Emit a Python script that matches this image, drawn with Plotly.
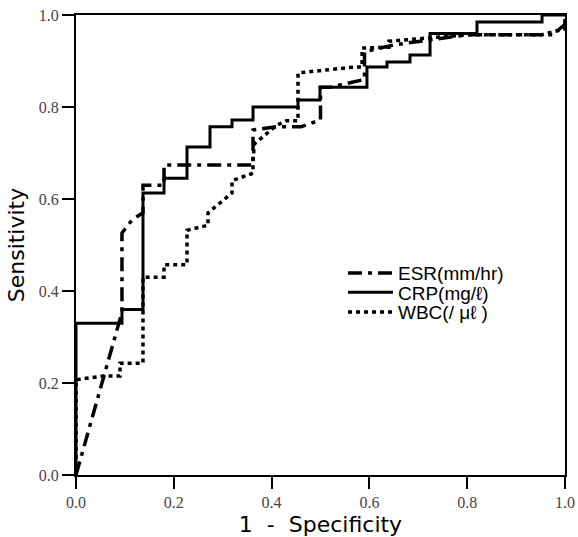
import plotly.graph_objects as go

# ---- data ----
esr_fpr = [0.0, 0.094, 0.094, 0.115, 0.137, 0.137, 0.18, 0.18, 0.362, 0.362, 0.41, 0.46, 0.50, 0.50, 0.52, 0.59, 0.59, 0.65, 0.80, 0.975, 1.0, 1.0]
esr_tpr = [0.0, 0.354, 0.526, 0.555, 0.57, 0.63, 0.63, 0.674, 0.674, 0.75, 0.757, 0.757, 0.772, 0.843, 0.843, 0.86, 0.92, 0.935, 0.957, 0.957, 0.98, 1.0]

crp_fpr = [0.0, 0.0, 0.094, 0.094, 0.137, 0.137, 0.18, 0.18, 0.227, 0.227, 0.274, 0.274, 0.319, 0.319, 0.362, 0.362, 0.454, 0.454, 0.499, 0.499, 0.595, 0.595, 0.636, 0.636, 0.683, 0.683, 0.724, 0.724, 0.82, 0.82, 0.953, 0.953, 1.0]
crp_tpr = [0.0, 0.33, 0.33, 0.36, 0.36, 0.613, 0.613, 0.645, 0.645, 0.713, 0.713, 0.757, 0.757, 0.772, 0.772, 0.80, 0.80, 0.815, 0.815, 0.843, 0.843, 0.887, 0.887, 0.898, 0.898, 0.913, 0.913, 0.96, 0.96, 0.985, 0.985, 1.0, 1.0]

wbc_fpr = [0.0, 0.0, 0.055, 0.09, 0.09, 0.137, 0.137, 0.18, 0.18, 0.227, 0.227, 0.27, 0.27, 0.319, 0.319, 0.362, 0.362, 0.365, 0.41, 0.43, 0.454, 0.454, 0.57, 0.585, 0.585, 0.64, 0.64, 0.80, 0.953, 1.0, 1.0]
wbc_tpr = [0.0, 0.207, 0.215, 0.215, 0.243, 0.243, 0.43, 0.43, 0.457, 0.457, 0.532, 0.543, 0.57, 0.613, 0.64, 0.656, 0.685, 0.72, 0.76, 0.77, 0.77, 0.874, 0.887, 0.887, 0.928, 0.93, 0.943, 0.957, 0.957, 0.97, 1.0]

series_names = ["ESR(mm/hr)", "CRP(mg/\u2113)", "WBC(/ \u03bc\u2113 )"]
tick_vals = [0.0, 0.2, 0.4, 0.6, 0.8, 1.0]
tick_text = ["0.0", "0.2", "0.4", "0.6", "0.8", "1.0"]

fig = go.Figure()
fig.add_trace(go.Scatter(x=esr_fpr, y=esr_tpr, mode="lines", name=series_names[0], legend="legend",
                         line=dict(color="black", width=3.5, dash="14px,6px,4px,6px")))
fig.add_trace(go.Scatter(x=crp_fpr, y=crp_tpr, mode="lines", name=series_names[1], legend="legend2",
                         line=dict(color="black", width=3)))
fig.add_trace(go.Scatter(x=wbc_fpr, y=wbc_tpr, mode="lines", name=series_names[2], legend="legend3",
                         line=dict(color="black", width=3.5, dash="4px,4px")))

axis_common = dict(
    range=[0, 1], tickvals=tick_vals, ticktext=tick_text,
    showgrid=False, zeroline=False, automargin=False,
    showline=True, linecolor="black", linewidth=2, mirror=True,
    ticks="outside", ticklen=12, tickwidth=2, tickcolor="black",
    tickfont=dict(family="Liberation Serif", size=16, color="#444"),
)

legend_common = dict(x=0.546, xanchor="left", yanchor="middle",
                     bgcolor="rgba(0,0,0,0)", itemwidth=45,
                     font=dict(family="Liberation Sans", size=19, color="black"))

fig.update_layout(
    width=578, height=537,
    margin=dict(l=76, r=13, t=15, b=62),
    paper_bgcolor="white", plot_bgcolor="white",
    showlegend=True,
    legend=dict(y=0.439, **legend_common),
    legend2=dict(y=0.397, **legend_common),
    legend3=dict(y=0.354, **legend_common),
    xaxis=dict(title=dict(text="1  -  Specificity", standoff=6,
                          font=dict(family="DejaVu Sans", size=22, color="black")),
               **axis_common),
    yaxis=dict(title=dict(text="Sensitivity", standoff=8,
                          font=dict(family="DejaVu Sans", size=22, color="black")),
               **axis_common),
)

fig.write_html("out.html",
               config={"displayModeBar": False},
               post_script="document.body.style.margin='0';document.body.style.overflow='hidden';")
